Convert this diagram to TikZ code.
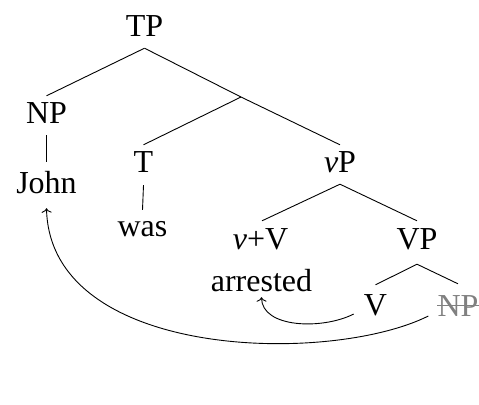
\documentclass[tikz,border=0pt]{standalone}
\usepackage{fontspec}
\setmainfont{Liberation Serif}
\usetikzlibrary{arrows.meta}
\definecolor{trace}{RGB}{128,128,128}
\begin{document}
\begin{tikzpicture}[x=1bp,y=-1bp,
  lab/.style={inner sep=0pt,text height=21bp,text depth=0pt,anchor=base,font=\fontsize{32bp}{36bp}\selectfont},
  br/.style={line width=0.9bp},
  mv/.style={line width=0.9bp,-{To[length=4.5bp,width=10bp]}}]
\useasboundingbox (0,0) rectangle (479,404);
\node[lab] (TP) at (144.5,36) {TP};
\node[lab] (NP) at (46.5,123) {NP};
\node[lab] (John) at (46.5,193) {John};
\node[lab] (T) at (143.5,172) {T};
\node[lab] (was) at (142.5,236) {was};
\node[lab] (vP) at (340,172) {\textit{v}P};
\node[lab] (vV) at (260.5,249) {\textit{v}+V};
\node[lab] (VP) at (417,249) {VP};
\node[lab] (arr) at (261.5,291) {arrested};
\node[lab] (V) at (375.5,315) {V};
\node[lab,text=trace] (NPt) at (458,316) {NP};
\coordinate (bar) at (241,97);
% tree branches
\draw[br] ([yshift=-12bp]TP.south) -- ([yshift=6bp]NP.north);
\draw[br] ([yshift=-12bp]TP.south) -- (bar) -- ([yshift=6bp]vP.north);
\draw[br] (bar) -- ([yshift=6bp]T.north);
\draw[br] ([yshift=-12bp]NP.south) -- ([yshift=10bp]John.north);
\draw[br] ([yshift=-13bp]T.south) -- ([yshift=5bp]was.north);
\draw[br] ([yshift=-12bp]vP.south) -- ([shift={(1.5bp,7bp)}]vV.north);
\draw[br] ([yshift=-12bp]vP.south) -- ([yshift=7bp]VP.north);
\draw[br] ([yshift=-15bp]VP.south) -- ([yshift=9bp]V.north);
\draw[br] ([yshift=-15bp]VP.south) -- ([yshift=11bp]NPt.north);
% strike-through
\draw[br,trace] (NPt.west) -- (NPt.east);
% movement arrows
\draw[mv] ([shift={(-10bp,1bp)}]V.base west) .. controls (322,330) and (262,328) .. ([yshift=-6bp]arr.south);
\draw[mv] ([xshift=-9bp]NPt.base west) .. controls (330,365) and (50,360) .. ([yshift=-15bp]John.south);
\end{tikzpicture}
\end{document}
